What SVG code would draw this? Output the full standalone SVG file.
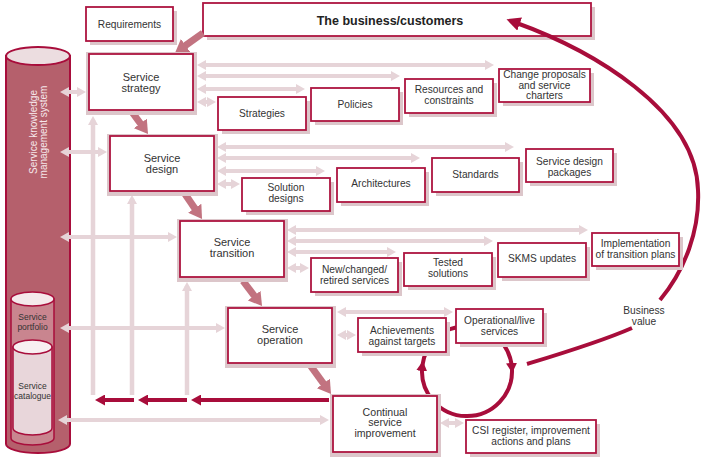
<svg xmlns="http://www.w3.org/2000/svg" width="705" height="457" viewBox="0 0 705 457">
<style>
.box{fill:#fff;stroke:#ad1440;stroke-width:1.8}
.sh{fill:#dcc6ca}
.t{font-family:"Liberation Sans",Arial,sans-serif;font-size:10.2px;fill:#333;text-anchor:middle}
.m{font-size:11px}
.tb{font-family:"Liberation Sans",Arial,sans-serif;font-size:12.5px;font-weight:bold;fill:#222;text-anchor:middle}
.la{stroke:#e6d4d8;stroke-width:4;fill:none;marker-start:url(#ha);marker-end:url(#ha)}
.lv{stroke:#e6d4d8;stroke-width:4.5;fill:none;marker-end:url(#ha)}
.da{stroke:#a80d3b;stroke-width:4;fill:none;marker-end:url(#hd)}
.fa{stroke:#c27380;stroke-width:7;fill:none;marker-end:url(#hf)}
.cv{stroke:#a80d3b;stroke-width:4;fill:none}
</style>
<defs>
<marker id="ha" markerUnits="userSpaceOnUse" markerWidth="10" markerHeight="10" refX="5" refY="5" orient="auto-start-reverse"><path d="M0,0 L9,5 L0,10 z" fill="#e6d4d8"/></marker>
<marker id="hd" markerUnits="userSpaceOnUse" markerWidth="11" markerHeight="11" refX="5" refY="5.5" orient="auto"><path d="M0,0 L10,5.5 L0,11 z" fill="#a80d3b"/></marker>
<marker id="hb" markerUnits="userSpaceOnUse" markerWidth="14" markerHeight="14" refX="6" refY="7" orient="auto"><path d="M0,0 L14,7 L0,14 z" fill="#a80d3b"/></marker>
<marker id="hf" markerUnits="userSpaceOnUse" markerWidth="14" markerHeight="16" refX="6" refY="8" orient="auto"><path d="M0,0 L13,8 L0,16 z" fill="#c27380"/></marker>
</defs>

<g id="skms">
<path d="M6,56 L6,444 A32,9 0 0 0 70,444 L70,56 z" fill="#b5606c" stroke="#a80d3b" stroke-width="2"/>
<ellipse cx="38" cy="56" rx="32" ry="9" fill="#ecdde0" stroke="#a80d3b" stroke-width="2"/>
<text class="t" transform="translate(0,132) rotate(-90)" style="fill:#f6e8eb;font-size:10px"><tspan x="0" y="36.5">Service knowledge</tspan><tspan x="0" y="46.5">management system</tspan></text>
<g id="portfolio">
<path d="M11,299 L11,438 A21.5,7 0 0 0 54,438 L54,299 z" fill="#c9858f" stroke="#a80d3b" stroke-width="1.5"/>
<ellipse cx="32.5" cy="299" rx="21.5" ry="7" fill="#f4e9eb" stroke="#a80d3b" stroke-width="1.5"/>
<text class="t" style="font-size:8.5px"><tspan x="32.5" y="320">Service</tspan><tspan x="32.5" y="330">portfolio</tspan></text>
</g>
<g id="catalogue">
<path d="M13,347 L13,428 A19.5,7 0 0 0 52,428 L52,347 z" fill="#e8d6da" stroke="#a80d3b" stroke-width="1.5"/>
<ellipse cx="32.5" cy="347" rx="19.5" ry="7" fill="#f8eff1" stroke="#a80d3b" stroke-width="1.5"/>
<text class="t" style="font-size:8.5px"><tspan x="32.5" y="389">Service</tspan><tspan x="32.5" y="399">catalogue</tspan></text>
</g>
</g>

<g id="business"><rect class="sh" x="207" y="7" width="388" height="33"/><rect class="box" x="203" y="3" width="388" height="33"/><text class="tb" x="390" y="25">The business/customers</text></g>

<g id="connectors">
<line class="la" x1="201" y1="65" x2="490" y2="65"/>
<line class="la" x1="201" y1="76" x2="396" y2="76"/>
<line class="la" x1="201" y1="89" x2="301" y2="89"/>
<line class="la" x1="201" y1="102" x2="212" y2="102"/>
<line class="la" x1="221" y1="147" x2="510" y2="147"/>
<line class="la" x1="221" y1="158" x2="416" y2="158"/>
<line class="la" x1="221" y1="171" x2="321" y2="171"/>
<line class="la" x1="221" y1="184" x2="236" y2="184"/>
<line class="la" x1="291" y1="230" x2="584" y2="230"/>
<line class="la" x1="291" y1="241" x2="489" y2="241"/>
<line class="la" x1="291" y1="252" x2="392" y2="252"/>
<line class="la" x1="291" y1="268" x2="305" y2="268"/>
<line class="la" x1="341" y1="312" x2="449" y2="312"/>
<line class="la" x1="341" y1="335" x2="352" y2="335"/>
<line class="la" x1="444" y1="423" x2="460" y2="423"/>
<line class="la" x1="64" y1="92" x2="82" y2="92"/>
<line class="la" x1="64" y1="152" x2="103" y2="152"/>
<line class="la" x1="64" y1="237" x2="173" y2="237"/>
<line class="la" x1="64" y1="328" x2="221" y2="328"/>
<line class="la" x1="62" y1="420" x2="325" y2="420"/>
<line class="lv" x1="93" y1="395" x2="93" y2="120"/>
<line class="lv" x1="132" y1="395" x2="132" y2="199"/>
<line class="lv" x1="187" y1="395" x2="187" y2="286"/>
<line class="da" x1="329" y1="400" x2="196" y2="400"/>
<line class="da" x1="187" y1="400" x2="143" y2="400"/>
<line class="da" x1="134" y1="400" x2="100" y2="400"/>
<line class="fa" x1="203" y1="33" x2="180.7" y2="48.9"/>
<line class="fa" x1="132" y1="112" x2="143.9" y2="128.3"/>
<line class="fa" x1="185" y1="194" x2="198.1" y2="213.2"/>
<line class="fa" x1="243" y1="281" x2="257.8" y2="300.4"/>
<line class="fa" x1="310" y1="365" x2="326.9" y2="388.3"/>
<path class="cv" d="M467,326 A45,45 0 0 1 511.9,368" marker-end="url(#hd)"/>
<path class="cv" d="M511.9,368 A45,45 0 1 1 422.3,366" marker-end="url(#hd)"/>
<path class="cv" d="M422.3,366 A45,45 0 0 1 467,326"/>
<path class="cv" d="M527,364 C560,354 600,342 632,328"/>
<path class="cv" d="M660,300 C685,270 700,230 698,190 C696,110 592,50 514,22" marker-end="url(#hb)"/>
</g>

<g id="requirements"><rect class="sh" x="90" y="11" width="87" height="34"/><rect class="box" x="86" y="7" width="87" height="34"/><text class="t" x="129.5" y="28">Requirements</text></g>

<g id="strategy"><rect class="sh" x="86" y="52" width="111" height="63"/><rect class="box" x="89" y="54" width="104" height="56"/><text class="t m"><tspan x="141" y="81">Service</tspan><tspan x="141" y="92">strategy</tspan></text></g>
<g id="design"><rect class="sh" x="107" y="134" width="111" height="62"/><rect class="box" x="110" y="136" width="104" height="55"/><text class="t m"><tspan x="162" y="161.5">Service</tspan><tspan x="162" y="172.5">design</tspan></text></g>
<g id="transition"><rect class="sh" x="177" y="219" width="111" height="63"/><rect class="box" x="180" y="221" width="104" height="56"/><text class="t m"><tspan x="232" y="246">Service</tspan><tspan x="232" y="257">transition</tspan></text></g>
<g id="operation"><rect class="sh" x="225" y="306" width="111" height="62"/><rect class="box" x="228" y="308" width="104" height="55"/><text class="t m"><tspan x="280" y="333">Service</tspan><tspan x="280" y="344">operation</tspan></text></g>
<g id="csi"><rect class="sh" x="330" y="394" width="111" height="63"/><rect class="box" x="333" y="396" width="104" height="56"/><text class="t" style="font-size:10.6px"><tspan x="385" y="415.5">Continual</tspan><tspan x="385" y="426">service</tspan><tspan x="385" y="436.5">improvement</tspan></text></g>

<g id="strategies"><rect class="sh" x="222" y="101" width="88" height="33"/><rect class="box" x="218" y="97" width="88" height="33"/><text class="t" x="262" y="117">Strategies</text></g>
<g id="policies"><rect class="sh" x="315" y="92" width="88" height="33"/><rect class="box" x="311" y="88" width="88" height="33"/><text class="t" x="355" y="108">Policies</text></g>
<g id="resources"><rect class="sh" x="409" y="83" width="88" height="34"/><rect class="box" x="405" y="79" width="88" height="34"/><text class="t"><tspan x="449" y="93">Resources and</tspan><tspan x="449" y="103.5">constraints</tspan></text></g>
<g id="change"><rect class="sh" x="503" y="73" width="91" height="33"/><rect class="box" x="499" y="69" width="91" height="33"/><text class="t"><tspan x="544.5" y="78">Change proposals</tspan><tspan x="544.5" y="88.5">and service</tspan><tspan x="544.5" y="99">charters</tspan></text></g>

<g id="solution"><rect class="sh" x="246" y="182" width="88" height="33"/><rect class="box" x="242" y="178" width="88" height="33"/><text class="t"><tspan x="286" y="191">Solution</tspan><tspan x="286" y="202">designs</tspan></text></g>
<g id="architectures"><rect class="sh" x="341" y="172" width="88" height="34"/><rect class="box" x="337" y="168" width="88" height="34"/><text class="t" x="381" y="187">Architectures</text></g>
<g id="standards"><rect class="sh" x="436" y="162" width="87" height="34"/><rect class="box" x="432" y="158" width="87" height="34"/><text class="t" x="475.5" y="178">Standards</text></g>
<g id="sdp"><rect class="sh" x="530" y="153" width="87" height="33"/><rect class="box" x="526" y="149" width="87" height="33"/><text class="t"><tspan x="569.5" y="165">Service design</tspan><tspan x="569.5" y="175.5">packages</tspan></text></g>

<g id="newchanged"><rect class="sh" x="315" y="262" width="87" height="34"/><rect class="box" x="311" y="258" width="87" height="34"/><text class="t"><tspan x="354.5" y="273">New/changed/</tspan><tspan x="354.5" y="283.5">retired services</tspan></text></g>
<g id="tested"><rect class="sh" x="408" y="257" width="88" height="33"/><rect class="box" x="404" y="253" width="88" height="33"/><text class="t"><tspan x="448" y="266">Tested</tspan><tspan x="448" y="276.5">solutions</tspan></text></g>
<g id="skmsupdates"><rect class="sh" x="502" y="247" width="88" height="34"/><rect class="box" x="498" y="243" width="88" height="34"/><text class="t" x="542" y="262">SKMS updates</text></g>
<g id="implementation"><rect class="sh" x="596" y="237" width="87" height="33"/><rect class="box" x="592" y="233" width="87" height="33"/><text class="t"><tspan x="635.5" y="247">Implementation</tspan><tspan x="635.5" y="257.5">of transition plans</tspan></text></g>

<g id="achievements"><rect class="sh" x="362" y="322" width="88" height="34"/><rect class="box" x="358" y="318" width="88" height="34"/><text class="t"><tspan x="402" y="334">Achievements</tspan><tspan x="402" y="344.5">against targets</tspan></text></g>
<g id="operational"><rect class="sh" x="460" y="313" width="87" height="34"/><rect class="box" x="456" y="309" width="87" height="34"/><text class="t"><tspan x="499.5" y="324">Operational/live</tspan><tspan x="499.5" y="334.5">services</tspan></text></g>
<g id="csiregister"><rect class="sh" x="470" y="424" width="130" height="33"/><rect class="box" x="466" y="420" width="130" height="33"/><text class="t"><tspan x="531" y="434">CSI register, improvement</tspan><tspan x="531" y="444.5">actions and plans</tspan></text></g>

<g id="businessvalue"><text class="t"><tspan x="644" y="314">Business</tspan><tspan x="644" y="324.5">value</tspan></text></g>
</svg>
